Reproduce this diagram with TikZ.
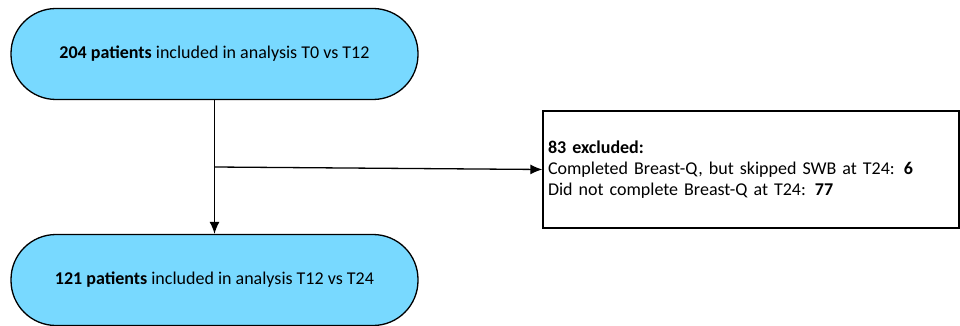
\documentclass[tikz,border=0pt]{standalone}
\usepackage{fontspec}
\setmainfont{Carlito}
\usetikzlibrary{arrows.meta,positioning}
\definecolor{stadiumblue}{HTML}{78D9FF}

\begin{document}
\begin{tikzpicture}[
	x=1pt, y=-1pt,
	every node/.style={font=\fontsize{18}{21}\selectfont},
	stadium/.style={draw, fill=stadiumblue, rounded corners=45pt, minimum width=407pt, minimum height=91pt, line width=1.3pt},
	box/.style={draw, minimum height=117pt, inner xsep=5pt, text width=406pt, align=left, line width=1.3pt},
	arrow/.style={-{Latex[length=12pt,width=10pt]}, line width=1.3pt}
	]
	\useasboundingbox (0,0) rectangle (960,326);
	
	\node[stadium] (T0) at (214.5,54) {\textbf{204 patients} included in analysis T0 vs T12};
	\node[stadium] (T12) at (214.5,280) {\textbf{121 patients} included in analysis T12 vs T24};
	\node[box] (excl) at (751,169.5) {\textbf{83 excluded:}\\
		Completed Breast-Q, but skipped SWB at T24: \textbf{6}\\
		Did not complete Breast-Q at T24: \textbf{77}};
	
	\coordinate (split) at (T0.south |- 0,167);
	
	\draw[arrow] (T0) -- (T12);
	\draw[arrow] (split) -- (excl.west);
	
\end{tikzpicture}
\end{document}
